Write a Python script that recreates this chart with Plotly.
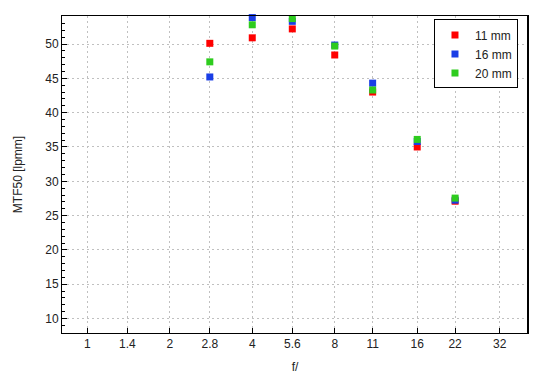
import plotly.graph_objects as go

f_numbers = [2.8, 4, 5.6, 8, 11, 16, 22]
mtf_11mm = [50.1, 50.9, 52.2, 48.4, 43.0, 35.0, 27.1]
mtf_16mm = [45.2, 53.85, 53.3, 49.85, 44.3, 35.8, 27.25]
mtf_20mm = [47.4, 52.8, 53.7, 49.7, 43.3, 36.1, 27.55]

x_ticks = [1, 1.4, 2, 2.8, 4, 5.6, 8, 11, 16, 22, 32]
x_tick_labels = ["1", "1.4", "2", "2.8", "4", "5.6", "8", "11", "16", "22", "32"]

series = [
    ("11 mm", mtf_11mm, "#ff0000"),
    ("16 mm", mtf_16mm, "#1a3ee6"),
    ("20 mm", mtf_20mm, "#2ecc1e"),
]

fig = go.Figure()
for name, vals, color in series:
    fig.add_trace(go.Scatter(
        x=f_numbers, y=vals, mode="markers", name=name,
        marker=dict(symbol="square", size=7, color=color, line=dict(width=0)),
        cliponaxis=False,
    ))

font = dict(family="Liberation Sans, Arial, sans-serif", size=12, color="#222222")

# page body has an 8px margin, so the figure is sized and offset to fit the 550x380 window
fig.update_layout(
    width=542, height=372,
    margin=dict(l=54, r=22, t=8, b=47),
    paper_bgcolor="white", plot_bgcolor="white",
    font=font,
    showlegend=True,
    legend=dict(
        x=0.9785, y=0.989, xanchor="right", yanchor="top",
        bordercolor="black", borderwidth=1, bgcolor="white",
        font=dict(family="Liberation Sans, Arial, sans-serif", size=12, color="#222222"),
        itemsizing="trace", tracegroupgap=0, itemwidth=30,
    ),
    shapes=[dict(type="line", xref="paper", yref="paper", x0=1, x1=1, y0=0, y1=1,
                 line=dict(color="black", width=2), layer="above")],
)

fig.update_xaxes(
    type="log", range=[-0.0923, 1.6084], automargin=False,
    tickvals=x_ticks, ticktext=x_tick_labels,
    ticks="inside", ticklen=5, tickcolor="black",
    showline=True, linecolor="black", linewidth=1, mirror=True,
    showgrid=True, gridcolor="#c0c0c0", griddash="2px,3px", gridwidth=1,
    zeroline=False,
    title=dict(text="f/", font=font, standoff=12),
)
fig.update_yaxes(
    range=[7.9, 54.08], automargin=False,
    tickmode="linear", tick0=10, dtick=5,
    ticks="inside", ticklen=5, tickcolor="black",
    minor=dict(dtick=1, tick0=0, ticks="inside", ticklen=3, tickcolor="black", showgrid=False),
    showline=True, linecolor="black", linewidth=1, mirror=True,
    showgrid=True, gridcolor="#c0c0c0", griddash="2px,3px", gridwidth=1,
    zeroline=False,
    title=dict(text="MTF50 [lpmm]", font=font, standoff=20),
)

fig.write_html("out.html")
